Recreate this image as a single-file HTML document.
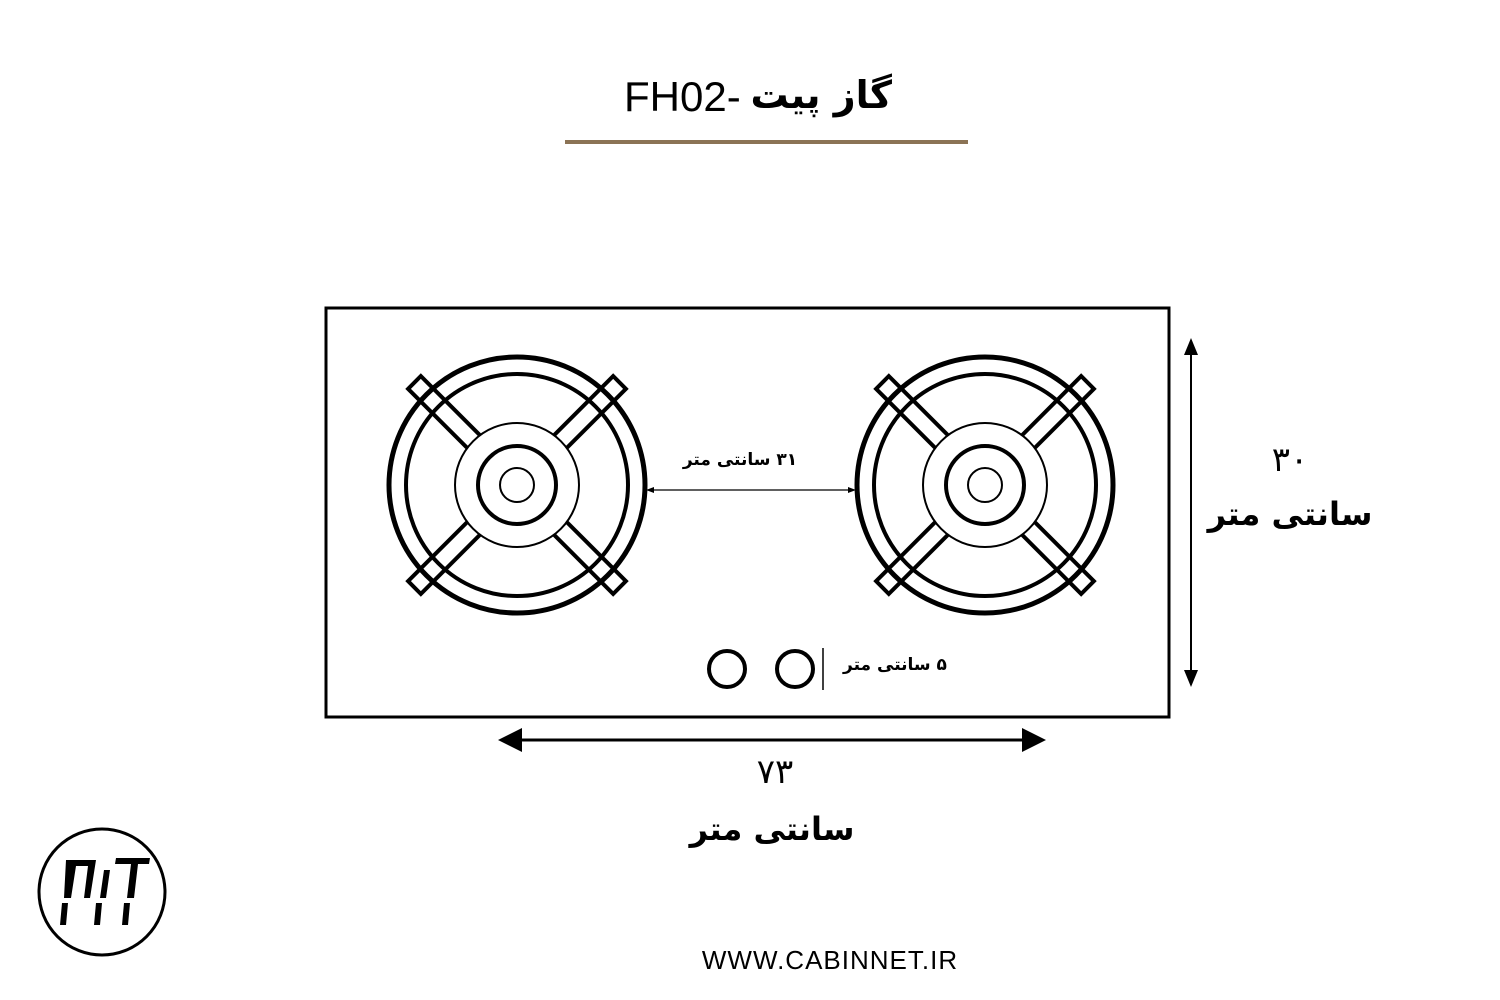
<!DOCTYPE html>
<html><head><meta charset="utf-8"><style>
body{margin:0;width:1500px;height:1000px;background:#fff;position:relative;overflow:hidden;font-family:"Liberation Sans","DejaVu Sans",sans-serif}
.t{position:absolute;white-space:nowrap;color:#000;text-align:center}
</style></head><body>
<svg width="1500" height="1000" style="position:absolute;left:0;top:0">
<defs>
<g id="b">
 <g fill="#fff" stroke="#000" stroke-width="4">
  <rect x="55" y="-9" width="90" height="18" transform="rotate(45)"/>
  <rect x="55" y="-9" width="90" height="18" transform="rotate(135)"/>
  <rect x="55" y="-9" width="90" height="18" transform="rotate(225)"/>
  <rect x="55" y="-9" width="90" height="18" transform="rotate(315)"/>
 </g>
 <circle r="128" fill="none" stroke="#000" stroke-width="5"/>
 <circle r="111" fill="none" stroke="#000" stroke-width="4"/>
 <circle r="62" fill="#fff" stroke="#000" stroke-width="2"/>
 <circle r="39" fill="none" stroke="#000" stroke-width="4"/>
 <circle r="17" fill="none" stroke="#000" stroke-width="2"/>
</g>
</defs>
<line x1="565" y1="142" x2="968" y2="142" stroke="#8b7355" stroke-width="4"/>
<rect x="326" y="308" width="843" height="409" fill="none" stroke="#000" stroke-width="3"/>
<use href="#b" x="517" y="485"/>
<use href="#b" x="985" y="485"/>
<line x1="650" y1="490" x2="852" y2="490" stroke="#000" stroke-width="1.2"/>
<path d="M646 490 L654 487 L654 493Z M856 490 L848 487 L848 493Z" fill="#000"/>
<circle cx="727" cy="669" r="18" fill="none" stroke="#000" stroke-width="4"/>
<circle cx="795" cy="669" r="18" fill="none" stroke="#000" stroke-width="4"/>
<line x1="823" y1="648" x2="823" y2="690" stroke="#000" stroke-width="1.5"/>
<line x1="1191" y1="350" x2="1191" y2="675" stroke="#000" stroke-width="2"/>
<path d="M1191 338 L1184 355 L1198 355Z M1191 687 L1184 670 L1198 670Z" fill="#000"/>
<line x1="515" y1="740" x2="1030" y2="740" stroke="#000" stroke-width="3"/>
<path d="M498 740 L522 728 L522 752Z M1046 740 L1022 728 L1022 752Z" fill="#000"/>
<circle cx="102" cy="892" r="63" fill="none" stroke="#000" stroke-width="3"/>
<g fill="#000">
<path d="M66 860 L96 860 L90 898 L84 898 L88 866 L76 866 L71 898 L64 898Z"/>
<path d="M104 870 L110 870 L106 898 L100 898Z"/>
<path d="M116 858 L150 858 L149 864 L138 864 L134 898 L127 898 L131 864 L115 864Z"/>
<path d="M62 903 L68 903 L66 925 L60 925Z M96 903 L102 903 L100 925 L94 925Z M124 903 L130 903 L128 925 L122 925Z"/>
</g>
</svg>
<div class="t" style="left:752px;top:70px;width:140px;font-size:38px;line-height:50px;font-family:'DejaVu Sans',sans-serif;font-weight:bold" dir="rtl">گاز پیت</div>
<div class="t" style="left:624px;top:72px;font-size:42px;line-height:50px">FH02-</div>
<div class="t" style="left:660px;top:450px;width:160px;font-size:17px;font-weight:bold;font-family:'DejaVu Sans',sans-serif" dir="rtl">۳۱ سانتی متر</div>
<div class="t" style="left:830px;top:655px;width:130px;font-size:17px;font-weight:bold;font-family:'DejaVu Sans',sans-serif" dir="rtl">۵ سانتی متر</div>
<div class="t" style="left:1190px;top:440px;width:200px;font-size:34px;font-family:'DejaVu Sans',sans-serif">۳۰</div>
<div class="t" style="left:1190px;top:495px;width:200px;font-size:32px;font-weight:bold;font-family:'DejaVu Sans',sans-serif" dir="rtl">سانتی متر</div>
<div class="t" style="left:675px;top:752px;width:200px;font-size:34px;font-family:'DejaVu Sans',sans-serif">۷۳</div>
<div class="t" style="left:672px;top:810px;width:200px;font-size:32px;font-weight:bold;font-family:'DejaVu Sans',sans-serif" dir="rtl">سانتی متر</div>
<div class="t" style="left:680px;top:945px;width:300px;font-size:26px;letter-spacing:1px">WWW.CABINNET.IR</div>
</body></html>
